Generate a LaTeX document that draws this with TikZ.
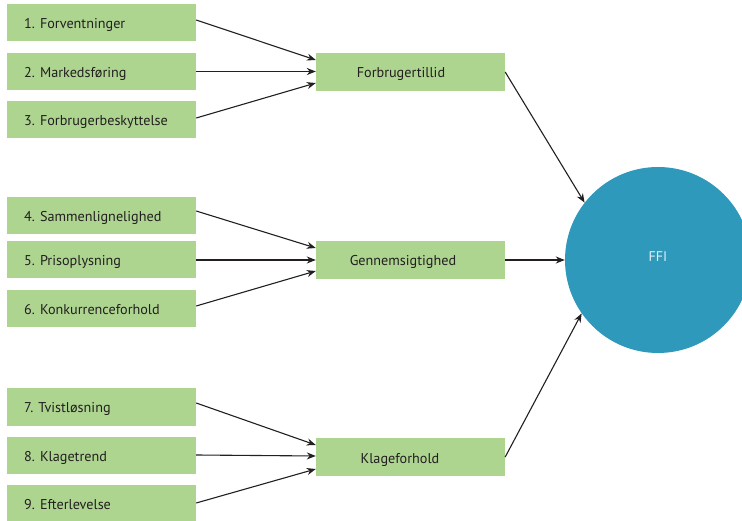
\documentclass[tikz,border=0pt]{standalone}
\usepackage{fontspec}
\setmainfont{PT Sans}
\usetikzlibrary{arrows.meta}
\definecolor{boxgreen}{HTML}{ADD590}
\definecolor{ffiblue}{HTML}{2F99BB}
\definecolor{ink}{HTML}{231F20}
\begin{document}
\begin{tikzpicture}[x=1pt,y=-1pt,
  leftbox/.style={fill=boxgreen,draw=none,minimum width=189pt,minimum height=37pt,inner sep=0pt},
  midbox/.style={fill=boxgreen,draw=none,minimum width=189pt,minimum height=38pt,inner sep=0pt},
  lbl/.style={text=ink,font=\fontsize{14.2}{16}\selectfont,inner sep=0pt,anchor=base west},
  mlbl/.style={text=ink,font=\fontsize{14.2}{16}\selectfont,inner sep=0pt,anchor=base},
  conn/.style={draw=ink,line width=1.1pt,-{Stealth[length=9pt,width=7pt]}}]
\useasboundingbox (0,0) rectangle (742,521);
\begin{scope}
\clip (0,0) rectangle (742,521);
\node[circle,fill=ffiblue,minimum size=186pt,inner sep=0pt] (ffi) at (658,260) {};
\end{scope}
\node[text=white!85!ffiblue,font=\fontsize{14}{16}\selectfont,anchor=base,inner sep=0pt] (ffit) at (658,262) {FFI};
% left boxes
\node[leftbox] (b1) at (101.5,22.5) {};
\node[leftbox] (b2) at (101.5,71.5) {};
\node[leftbox] (b3) at (101.5,120) {};
\node[leftbox] (b4) at (101.5,215.5) {};
\node[leftbox] (b5) at (101.5,260) {};
\node[leftbox] (b6) at (101.5,308.5) {};
\node[leftbox] (b7) at (101.5,407) {};
\node[leftbox] (b8) at (101.5,455.5) {};
\node[leftbox] (b9) at (101.5,503) {};
\node[lbl] (t1) at (24,28.5) {1. Forventninger};
\node[lbl] (t2) at (24,77.5) {2. Markedsføring};
\node[lbl] (t3) at (24,126) {3. Forbrugerbeskyttelse};
\node[lbl] (t4) at (24,221.5) {4. Sammenlignelighed};
\node[lbl] (t5) at (24,266) {5. Prisoplysning};
\node[lbl] (t6) at (24,314.5) {6. Konkurrenceforhold};
\node[lbl] (t7) at (24,413) {7. Tvistløsning};
\node[lbl] (t8) at (24,461.5) {8. Klagetrend};
\node[lbl] (t9) at (24,509) {9. Efterlevelse};
% middle boxes
\node[midbox] (m1) at (410.5,72) {};
\node[midbox] (m2) at (410.5,260) {};
\node[midbox] (m3) at (410.5,457) {};
\node[mlbl] (n1) at (401,78) {Forbrugertillid};
\node[mlbl] (n2) at (403,266) {Gennemsigtighed};
\node[mlbl] (n3) at (400,463) {Klageforhold};
% connectors
\draw[conn] ([yshift=2.5pt]b1.east) -- ([yshift=12pt]m1.west);
\draw[conn] (b2.east) -- ([yshift=0.5pt]m1.west);
\draw[conn] ([yshift=2pt]b3.east) -- ([yshift=-11pt]m1.west);
\draw[conn] ([yshift=4.5pt]b4.east) -- ([yshift=12pt]m2.west);
\draw[conn] (b5.east) -- (m2.west);
\draw[conn] ([yshift=2.5pt]b6.east) -- ([yshift=-11pt]m2.west);
\draw[conn] ([yshift=4pt]b7.east) -- ([yshift=12pt]m3.west);
\draw[conn] ([yshift=0.5pt]b8.east) -- ([yshift=1pt]m3.west);
\draw[conn] ([yshift=0pt]b9.east) -- ([yshift=-12pt]m3.west);
\draw[conn] (m1.east) -- (ffi.142);
\draw[conn] (m2.east) -- (ffi.west);
\draw[conn] (m3.east) -- (ffi.215);
\end{tikzpicture}
\end{document}
